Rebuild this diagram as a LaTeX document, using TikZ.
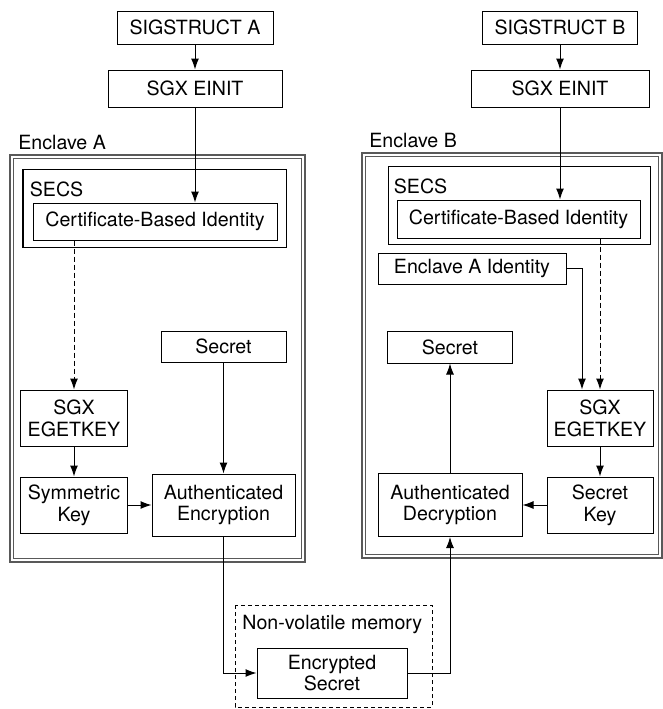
\documentclass[tikz,border=0pt]{standalone}
\usepackage{fontspec}
\setmainfont{TeX Gyre Heros}
\usetikzlibrary{arrows.meta, positioning, calc}

\begin{document}
\begin{tikzpicture}[x=0.5pt, y=-0.5pt,
    every node/.style={font=\fontsize{9.8}{10.9}\selectfont},
    box/.style={draw, line width=0.5pt, align=center, inner sep=1pt},
    tag/.style={inner sep=0pt},
    flow/.style={line width=0.5pt, -{Latex[length=5.5pt, width=4pt]}},
    keyflow/.style={flow, dash pattern=on 2.5pt off 1.5pt},
    enclave/.style={draw=black!65, line width=0.55pt}]
    \useasboundingbox (0,0) rectangle (663,709);

    % enclave frames (two lines each)
    \draw[enclave] (10,155) rectangle (305,562);
    \draw[enclave] (13.5,158.5) rectangle (301.5,558.5);
    \draw[enclave] (362,153) rectangle (662,558);
    \draw[enclave] (365.5,156.5) rectangle (658.5,554.5);
    \node[tag, anchor=base west] (labA) at (18,149) {Enclave A};
    \node[tag, anchor=base west] (labB) at (369,147) {Enclave B};

    % enclave A
    \node[box, minimum width=78pt, minimum height=16.5pt] (sigA) at (195,27.5) {SIGSTRUCT A};
    \node[box, minimum width=87pt, minimum height=18.5pt] (einitA) at (195,88.5) {SGX EINIT};
    \node[box, minimum width=131.5pt, minimum height=39pt] (secsA) at (154.5,208) {};
    \node[tag, anchor=north west] (secsAtxt) at ([shift={(3.5pt,-6.5pt)}]secsA.north west) {SECS};
    \node[box, minimum width=122pt, minimum height=18.5pt] (certA) at (155,221.5) {Certificate-Based Identity};
    \node[box, minimum width=62.5pt, minimum height=15.5pt] (secretA) at (223.5,346.5) {Secret};
    \node[box, minimum width=53pt, minimum height=28pt] (egetA) at (74,418) {SGX\\EGETKEY};
    \node[box, minimum width=53pt, minimum height=28pt] (symA) at (74,505) {Symmetric\\Key};
    \node[box, minimum width=71.5pt, minimum height=31pt] (authEnc) at (223.5,505) {Authenticated\\Encryption};

    % enclave B
    \node[box, minimum width=77.5pt, minimum height=16.5pt] (sigB) at (560,27.5) {SIGSTRUCT B};
    \node[box, minimum width=89pt, minimum height=18.5pt] (einitB) at (560,88.5) {SGX EINIT};
    \node[box, minimum width=131pt, minimum height=39pt] (secsB) at (519,205) {};
    \node[tag, anchor=north west] (secsBtxt) at ([shift={(3pt,-6.5pt)}]secsB.north west) {SECS};
    \node[box, minimum width=121.5pt, minimum height=19pt] (certB) at (518.5,219) {Certificate-Based Identity};
    \node[box, minimum width=94pt, minimum height=15.5pt] (idA) at (472,268.5) {Enclave A Identity};
    \node[box, minimum width=62.5pt, minimum height=16pt] (secretB) at (450,347) {Secret};
    \node[box, minimum width=53pt, minimum height=28pt] (egetB) at (600,418) {SGX\\EGETKEY};
    \node[box, minimum width=53pt, minimum height=28pt] (keyB) at (600,505) {Secret\\Key};
    \node[box, minimum width=72pt, minimum height=31.5pt] (authDec) at (450,505) {Authenticated\\Decryption};

    % storage
    \draw[line width=0.5pt, dash pattern=on 2pt off 1.5pt] (235,605) rectangle (432,707);
    \node[tag, anchor=base west] (nvm) at (242,629) {Non-volatile memory};
    \node[box, minimum width=75pt, minimum height=25pt] (encSec) at (332,673) {Encrypted\\Secret};

    % connectors
    \draw[flow] (sigA) -- (einitA);
    \draw[flow] (einitA.south) -- (einitA.south |- certA.north);
    \draw[keyflow] (certA.south -| egetA.north) -- (egetA.north);
    \draw[flow] (egetA) -- (symA);
    \draw[flow] (symA) -- (authEnc);
    \draw[flow] (secretA) -- (authEnc);
    \draw[flow] (authEnc.south) |- (encSec.west);
    \draw[flow] (encSec.east) -| (authDec.south);
    \draw[flow] (authDec) -- (secretB);
    \draw[flow] (keyB) -- (authDec);
    \draw[flow] (egetB) -- (keyB);
    \draw[flow] (sigB) -- (einitB);
    \draw[flow] (einitB.south) -- (einitB.south |- certB.north);
    \draw[keyflow] (certB.south -| egetB.north) -- (egetB.north);
    \draw[flow] (idA.east) -| ([xshift=-9pt]egetB.north);
\end{tikzpicture}
\end{document}
